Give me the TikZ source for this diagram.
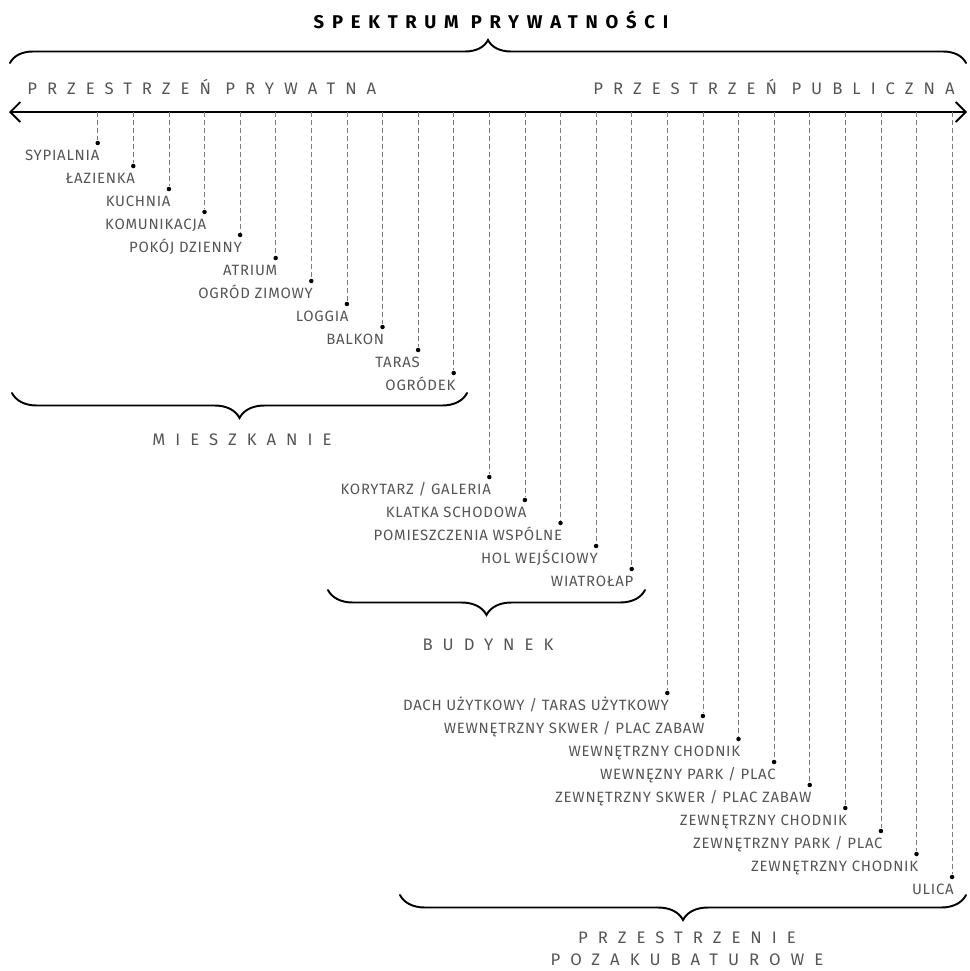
\documentclass[tikz,border=0pt]{standalone}
\usepackage{fontspec}
\setmainfont{Fira Sans}
\newfontfamily\spacedfont[LetterSpace=60]{Fira Sans}
\newfontfamily\titlefont[LetterSpace=42]{Fira Sans}
\newfontfamily\labelfont[LetterSpace=5]{Fira Sans}
\usetikzlibrary{arrows.meta, decorations.pathreplacing}
\definecolor{txtgray}{HTML}{555555}
\definecolor{linegray}{HTML}{7A7A7A}
\begin{document}
\begin{tikzpicture}[x=0.2mm, y=-0.2mm]
  \tikzstyle{endpt} = [circle, fill=black, inner sep=0pt, minimum size=0.9mm]
  \tikzstyle{lbl} = [anchor=base east, inner sep=0pt, yshift=-3.5mm, xshift=0.4mm, font=\labelfont\fontsize{8.5}{10}\selectfont, text=txtgray]
  \tikzstyle{dline} = [draw=linegray, dash pattern=on 1mm off 0.6mm, line width=0.4pt]
  \tikzstyle{hdr} = [font=\spacedfont\fontsize{9.5}{12.5}\selectfont, text=txtgray, inner sep=0pt]
  \tikzstyle{brc} = [decorate, line width=1.1pt, line cap=round]
  \useasboundingbox (0,0) rectangle (969,971);

  % title and main axis
  \node[inner sep=0pt, font=\titlefont\bfseries\fontsize{10.5}{12}\selectfont] (title) at (491,20) {SPEKTRUM PRYWATNOŚCI};
  \draw[brc, decoration={brace, amplitude=4.6mm}] (10,63) -- (966,63);
  \node[hdr, anchor=west] (priv) at (27,87) {PRZESTRZEŃ PRYWATNA};
  \node[hdr, anchor=east] (pub) at (955,87) {PRZESTRZEŃ PUBLICZNA};
  \coordinate (L) at (9,112);
  \coordinate (R) at (967,112);
  \draw[<->, >={Straight Barb[length=2mm, width=4mm]}, line width=1.1pt] (L) -- (R);

  % mieszkanie
  \node[endpt] (syp) at (97.7,143) {};
  \node[endpt] (laz) at (133.3,166) {};
  \node[endpt] (kuch) at (168.9,189) {};
  \node[endpt] (kom) at (204.5,212) {};
  \node[endpt] (pok) at (240.1,235) {};
  \node[endpt] (atr) at (275.7,258) {};
  \node[endpt] (ogz) at (311.3,281) {};
  \node[endpt] (log) at (346.9,304) {};
  \node[endpt] (bal) at (382.5,327) {};
  \node[endpt] (tar) at (418.1,350) {};
  \node[endpt] (ogr) at (453.7,373) {};
  \node[lbl] at (syp) {SYPIALNIA};
  \node[lbl] at (laz) {ŁAZIENKA};
  \node[lbl] at (kuch) {KUCHNIA};
  \node[lbl] at (kom) {KOMUNIKACJA};
  \node[lbl] at (pok) {POKÓJ DZIENNY};
  \node[lbl] at (atr) {ATRIUM};
  \node[lbl] at (ogz) {OGRÓD ZIMOWY};
  \node[lbl] at (log) {LOGGIA};
  \node[lbl] at (bal) {BALKON};
  \node[lbl] at (tar) {TARAS};
  \node[lbl] at (ogr) {OGRÓDEK};
  \draw[dline] (syp |- L) -- (syp);
  \draw[dline] (laz |- L) -- (laz);
  \draw[dline] (kuch |- L) -- (kuch);
  \draw[dline] (kom |- L) -- (kom);
  \draw[dline] (pok |- L) -- (pok);
  \draw[dline] (atr |- L) -- (atr);
  \draw[dline] (ogz |- L) -- (ogz);
  \draw[dline] (log |- L) -- (log);
  \draw[dline] (bal |- L) -- (bal);
  \draw[dline] (tar |- L) -- (tar);
  \draw[dline] (ogr |- L) -- (ogr);
  \draw[brc, decoration={brace, mirror, amplitude=5mm}] (12,393) -- (467,393);
  \node[hdr] (mieszk) at (242,440) {MIESZKANIE};

  % budynek
  \node[endpt] (kor) at (489.3,477) {};
  \node[endpt] (klat) at (524.9,500) {};
  \node[endpt] (pom) at (560.5,523) {};
  \node[endpt] (hol) at (596.1,546) {};
  \node[endpt] (wia) at (631.7,569) {};
  \node[lbl] at (kor) {KORYTARZ / GALERIA};
  \node[lbl] at (klat) {KLATKA SCHODOWA};
  \node[lbl] at (pom) {POMIESZCZENIA WSPÓLNE};
  \node[lbl] at (hol) {HOL WEJŚCIOWY};
  \node[lbl] at (wia) {WIATROŁAP};
  \draw[dline] (kor |- L) -- (kor);
  \draw[dline] (klat |- L) -- (klat);
  \draw[dline] (pom |- L) -- (pom);
  \draw[dline] (hol |- L) -- (hol);
  \draw[dline] (wia |- L) -- (wia);
  \draw[brc, decoration={brace, mirror, amplitude=5mm}] (328,590) -- (645,590);
  \node[hdr] (budyn) at (488,645) {BUDYNEK};

  % przestrzenie pozakubaturowe
  \node[endpt] (dach) at (667.3,693) {};
  \node[endpt] (wsk) at (702.9,716) {};
  \node[endpt] (wch) at (738.5,739) {};
  \node[endpt] (wpa) at (774.1,762) {};
  \node[endpt] (zsk) at (809.7,785) {};
  \node[endpt] (zch) at (845.3,808) {};
  \node[endpt] (zpa) at (880.9,831) {};
  \node[endpt] (zch2) at (916.5,854) {};
  \node[endpt] (uli) at (952.1,877) {};
  \node[lbl] at (dach) {DACH UŻYTKOWY / TARAS UŻYTKOWY};
  \node[lbl] at (wsk) {WEWNĘTRZNY SKWER / PLAC ZABAW};
  \node[lbl] at (wch) {WEWNĘTRZNY CHODNIK};
  \node[lbl] at (wpa) {WEWNĘZNY PARK / PLAC};
  \node[lbl] at (zsk) {ZEWNĘTRZNY SKWER / PLAC ZABAW};
  \node[lbl] at (zch) {ZEWNĘTRZNY CHODNIK};
  \node[lbl] at (zpa) {ZEWNĘTRZNY PARK / PLAC};
  \node[lbl] at (zch2) {ZEWNĘTRZNY CHODNIK};
  \node[lbl] at (uli) {ULICA};
  \draw[dline] (dach |- L) -- (dach);
  \draw[dline] (wsk |- L) -- (wsk);
  \draw[dline] (wch |- L) -- (wch);
  \draw[dline] (wpa |- L) -- (wpa);
  \draw[dline] (zsk |- L) -- (zsk);
  \draw[dline] (zch |- L) -- (zch);
  \draw[dline] (zpa |- L) -- (zpa);
  \draw[dline] (zch2 |- L) -- (zch2);
  \draw[dline] (uli |- L) -- (uli);
  \draw[brc, decoration={brace, mirror, amplitude=5mm}] (400,895) -- (966,895);
  \node[hdr, align=center] (pozak) at (687,949) {PRZESTRZENIE\\POZAKUBATUROWE};
\end{tikzpicture}
\end{document}
